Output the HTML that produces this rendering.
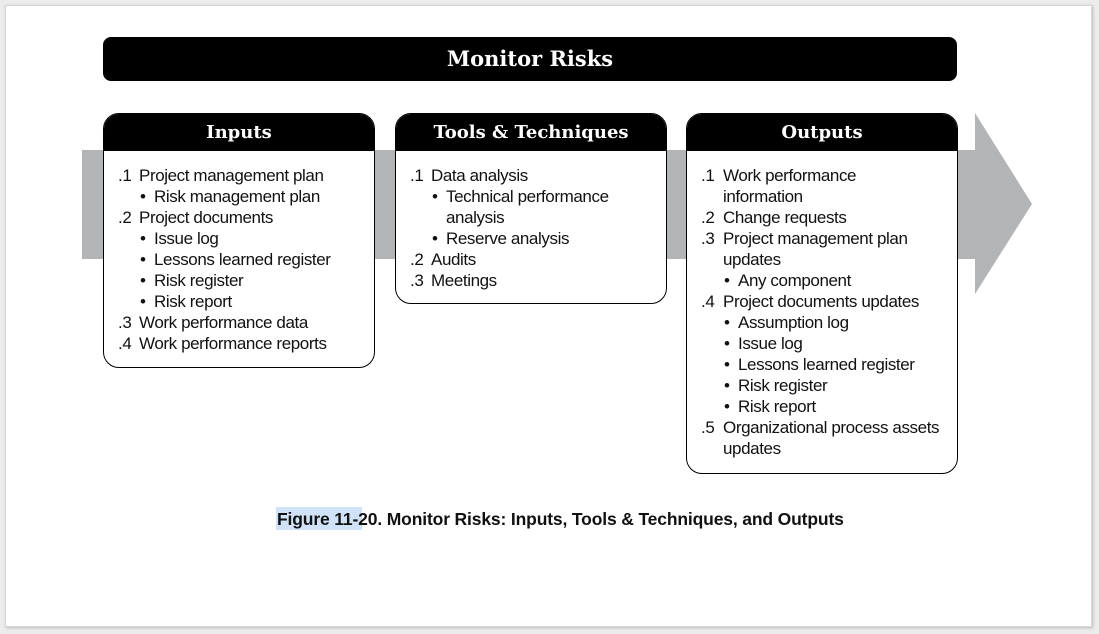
<!DOCTYPE html>
<html><head><meta charset="utf-8">
<style>
body{margin:0;width:1099px;height:634px;background:#ececec;position:relative;overflow:hidden;font-family:"Liberation Sans",sans-serif;}
.page{position:absolute;left:5px;top:5px;width:1085px;height:620px;background:#fff;border:1px solid #d6d6d6;box-shadow:1px 1px 3px #bbb;}
.abs{position:absolute;}
.title{left:103px;top:37px;width:854px;height:44px;background:#000;border-radius:8px;color:#fff;font-family:"DejaVu Serif",serif;font-weight:bold;font-size:21px;text-align:center;line-height:44px;}
.box{background:#fff;border:1.5px solid #000;border-radius:16px;overflow:hidden;box-sizing:border-box;}
.hd{height:37px;background:#000;color:#fff;font-family:"DejaVu Serif",serif;font-weight:bold;font-size:18px;text-align:center;line-height:38px;}
.l{position:absolute;font-size:17px;letter-spacing:-0.4px;line-height:21px;color:#111;white-space:nowrap;margin-top:2px;}
</style></head><body>
<div class="page"></div>
<svg class="abs" style="left:0;top:0" width="1099" height="634">
<rect x="82" y="150" width="894" height="109" fill="#b3b4b6"/>
<polygon points="975,113 1032,204 975,294" fill="#b3b4b6"/>
</svg>
<div class="abs title">Monitor Risks</div>

<div class="abs box" style="left:103px;top:113px;width:272px;height:255px"><div class="hd">Inputs</div></div>
<div class="abs box" style="left:395px;top:113px;width:272px;height:191px"><div class="hd">Tools &amp; Techniques</div></div>
<div class="abs box" style="left:686px;top:113px;width:272px;height:361px"><div class="hd">Outputs</div></div>

<!-- Inputs -->
<div class="l" style="left:118px;top:163px">.1</div><div class="l" style="left:139px;top:163px">Project management plan</div>
<div class="l" style="left:140px;top:184px">•</div><div class="l" style="left:154px;top:184px">Risk management plan</div>
<div class="l" style="left:118px;top:205px">.2</div><div class="l" style="left:139px;top:205px">Project documents</div>
<div class="l" style="left:140px;top:226px">•</div><div class="l" style="left:154px;top:226px">Issue log</div>
<div class="l" style="left:140px;top:247px">•</div><div class="l" style="left:154px;top:247px">Lessons learned register</div>
<div class="l" style="left:140px;top:268px">•</div><div class="l" style="left:154px;top:268px">Risk register</div>
<div class="l" style="left:140px;top:289px">•</div><div class="l" style="left:154px;top:289px">Risk report</div>
<div class="l" style="left:118px;top:310px">.3</div><div class="l" style="left:139px;top:310px">Work performance data</div>
<div class="l" style="left:118px;top:331px">.4</div><div class="l" style="left:139px;top:331px">Work performance reports</div>

<!-- Tools -->
<div class="l" style="left:410px;top:163px">.1</div><div class="l" style="left:431px;top:163px">Data analysis</div>
<div class="l" style="left:432px;top:184px">•</div><div class="l" style="left:446px;top:184px">Technical performance</div>
<div class="l" style="left:446px;top:205px">analysis</div>
<div class="l" style="left:432px;top:226px">•</div><div class="l" style="left:446px;top:226px">Reserve analysis</div>
<div class="l" style="left:410px;top:247px">.2</div><div class="l" style="left:431px;top:247px">Audits</div>
<div class="l" style="left:410px;top:268px">.3</div><div class="l" style="left:431px;top:268px">Meetings</div>

<!-- Outputs -->
<div class="l" style="left:701px;top:163px">.1</div><div class="l" style="left:723px;top:163px">Work performance</div>
<div class="l" style="left:723px;top:184px">information</div>
<div class="l" style="left:701px;top:205px">.2</div><div class="l" style="left:723px;top:205px">Change requests</div>
<div class="l" style="left:701px;top:226px">.3</div><div class="l" style="left:723px;top:226px">Project management plan</div>
<div class="l" style="left:723px;top:247px">updates</div>
<div class="l" style="left:724px;top:268px">•</div><div class="l" style="left:738px;top:268px">Any component</div>
<div class="l" style="left:701px;top:289px">.4</div><div class="l" style="left:723px;top:289px">Project documents updates</div>
<div class="l" style="left:724px;top:310px">•</div><div class="l" style="left:738px;top:310px">Assumption log</div>
<div class="l" style="left:724px;top:331px">•</div><div class="l" style="left:738px;top:331px">Issue log</div>
<div class="l" style="left:724px;top:352px">•</div><div class="l" style="left:738px;top:352px">Lessons learned register</div>
<div class="l" style="left:724px;top:373px">•</div><div class="l" style="left:738px;top:373px">Risk register</div>
<div class="l" style="left:724px;top:394px">•</div><div class="l" style="left:738px;top:394px">Risk report</div>
<div class="l" style="left:701px;top:415px">.5</div><div class="l" style="left:723px;top:415px">Organizational process assets</div>
<div class="l" style="left:723px;top:436px">updates</div>

<div class="abs" style="left:276px;top:507px;width:86px;height:23px;background:#cfe2f7"></div>
<div class="abs" style="left:277px;top:508px;font-size:17.5px;font-weight:bold;letter-spacing:-0.15px;line-height:22px;white-space:nowrap;color:#111">Figure 11-20. Monitor Risks: Inputs, Tools &amp; Techniques, and Outputs</div>
</body></html>
